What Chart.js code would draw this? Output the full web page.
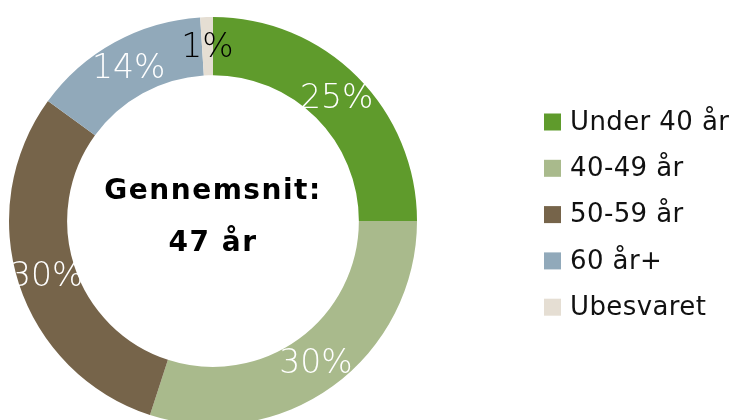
<!DOCTYPE html>
<html>
<head>
<meta charset="utf-8">
<script src="https://cdn.jsdelivr.net/npm/chart.js@4.4.0/dist/chart.umd.min.js"></script>
<style>
    html, body { margin: 0; padding: 0; background: #fff; overflow: hidden; }
    #wrap { position: relative; width: 750px; height: 420px; overflow: hidden; }
    #ageChart { display: block; }
</style>
</head>
<body>
<div id="wrap"><canvas id="ageChart" width="750" height="430"></canvas></div>
<script>
// Chart data
const categories = ['Under 40 år', '40-49 år', '50-59 år', '60 år+', 'Ubesvaret'];
const shares = [25, 30, 30, 14, 1];
const sliceColors = ['#5f9b2c', '#a9ba8c', '#76644a', '#91a9ba', '#e5ded3'];
const labelColors = ['#ffffff', '#ffffff', '#ffffff', '#ffffff', '#000000'];
const centerLines = ['Gennemsnit:', '47 år'];

// Percent labels on each slice
const sliceLabels = {
    id: 'sliceLabels',
    afterDatasetsDraw(chart) {
        const ctx = chart.ctx;
        const meta = chart.getDatasetMeta(0);
        ctx.save();
        ctx.font = '200 33px "DejaVu Sans"';
        ctx.textAlign = 'center';
        ctx.textBaseline = 'middle';
        meta.data.forEach((arc, i) => {
            const p = arc.getCenterPoint();
            ctx.fillStyle = labelColors[i];
            ctx.fillText(shares[i] + '%', p.x, p.y + 2);
        });
        ctx.restore();
    }
};

// Text in the middle of the ring
const centerText = {
    id: 'centerText',
    afterDatasetsDraw(chart) {
        const ctx = chart.ctx;
        const arc = chart.getDatasetMeta(0).data[0];
        ctx.save();
        ctx.font = 'bold 28px "DejaVu Sans"';
        ctx.letterSpacing = '1.5px';
        ctx.fillStyle = '#000';
        ctx.textAlign = 'center';
        ctx.textBaseline = 'middle';
        ctx.fillText(centerLines[0], arc.x, arc.y - 29);
        ctx.fillText(centerLines[1], arc.x, arc.y + 23);
        ctx.restore();
    }
};

// Legend on the right side
const sideLegend = {
    id: 'sideLegend',
    afterDraw(chart) {
        const ctx = chart.ctx;
        const left = 544;
        const top = 122;
        const step = 46.3;
        ctx.save();
        ctx.font = '26px "DejaVu Sans"';
        ctx.letterSpacing = '0.4px';
        ctx.textBaseline = 'middle';
        categories.forEach((name, i) => {
            const y = top + i * step;
            ctx.fillStyle = sliceColors[i];
            ctx.fillRect(left, y - 8.5, 17, 17);
            ctx.fillStyle = '#111';
            ctx.fillText(name, left + 26, y + 1);
        });
        ctx.restore();
    }
};

const ctx = document.getElementById('ageChart').getContext('2d');
const ageChart = new Chart(ctx, {
    type: 'doughnut',
    data: {
        labels: categories,
        datasets: [{
            data: shares,
            backgroundColor: sliceColors,
            borderWidth: 0,
            hoverOffset: 0
        }]
    },
    options: {
        responsive: false,
        animation: false,
        cutout: '71.5%',
        layout: { padding: { top: 17, bottom: 5, left: 0, right: 324 } },
        plugins: {
            legend: { display: false },
            tooltip: { enabled: false }
        }
    },
    plugins: [sliceLabels, centerText, sideLegend]
});
</script>
</body>
</html>
